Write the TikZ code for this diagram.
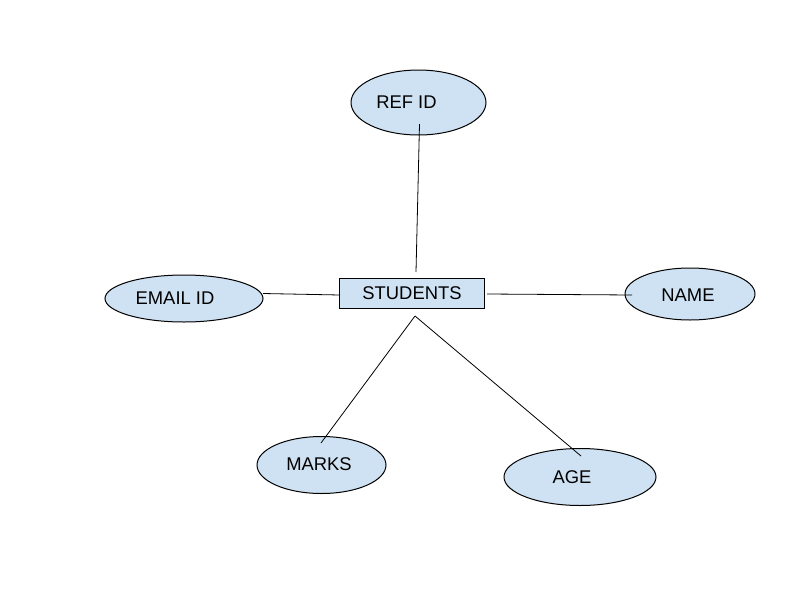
\documentclass[tikz,border=0pt]{standalone}
\usepackage{fontspec}
\setmainfont{Liberation Sans}
\definecolor{attrfill}{RGB}{207,226,243}
\tikzset{every picture/.style={line width=0.75pt}}
\tikzset{
  attr/.style={draw=black, fill=attrfill},
  lbl/.style={inner sep=0.75pt, font=\fontsize{13.8}{16}\selectfont},
  ent/.style={draw=black, fill=attrfill, minimum width=108.75pt, minimum height=22.5pt, inner sep=0pt, font=\fontsize{13.8}{16}\selectfont},
  link/.style={draw=black, line width=0.6pt}
}

\begin{document}
\begin{tikzpicture}[x=0.75pt,y=0.75pt,yscale=-1,xscale=1]
%set diagram left start at 0, and has height of 600
\path (0,0) rectangle (800,600);

% Entity
\node [ent] (students) at (412,293.5) {STUDENTS};

% REF ID
\draw [attr] (418.5,102.5) ellipse [x radius=67.5, y radius=32.5];
\node [lbl] (refid) at (406.5,102) {REF ID};
% EMAIL ID
\draw [attr] (184,298.5) ellipse [x radius=79, y radius=23.5];
\node [lbl] (emailid) at (175,298) {EMAIL ID};
% NAME
\draw [attr] (690,294) ellipse [x radius=65, y radius=26];
\node [lbl] (name) at (688,295) {NAME};
% MARKS
\draw [attr] (321.5,465) ellipse [x radius=64.5, y radius=28.5];
\node [lbl] (marks) at (319,464) {MARKS};
% AGE
\draw [attr] (580,477) ellipse [x radius=76, y radius=28.5];
\node [lbl] (age) at (572,477) {AGE};

% Connection ends
\coordinate (refA) at (419.5,124);
\coordinate (refB) at (416,272);
\coordinate (emailA) at (263,293.5);
\coordinate (emailB) at (340,295);
\coordinate (nameA) at (487,294);
\coordinate (nameB) at (632,295);
\coordinate (apex) at (415,316);
\coordinate (marksA) at (321,443);
\coordinate (ageA) at (581,456);

% Connection
\draw [link] (refA) -- (refB) ;
\draw [link] (emailA) -- (emailB) ;
\draw [link] (nameA) -- (nameB) ;
\draw [link] (apex) -- (marksA) ;
\draw [link] (apex) -- (ageA) ;

\end{tikzpicture}
\end{document}
